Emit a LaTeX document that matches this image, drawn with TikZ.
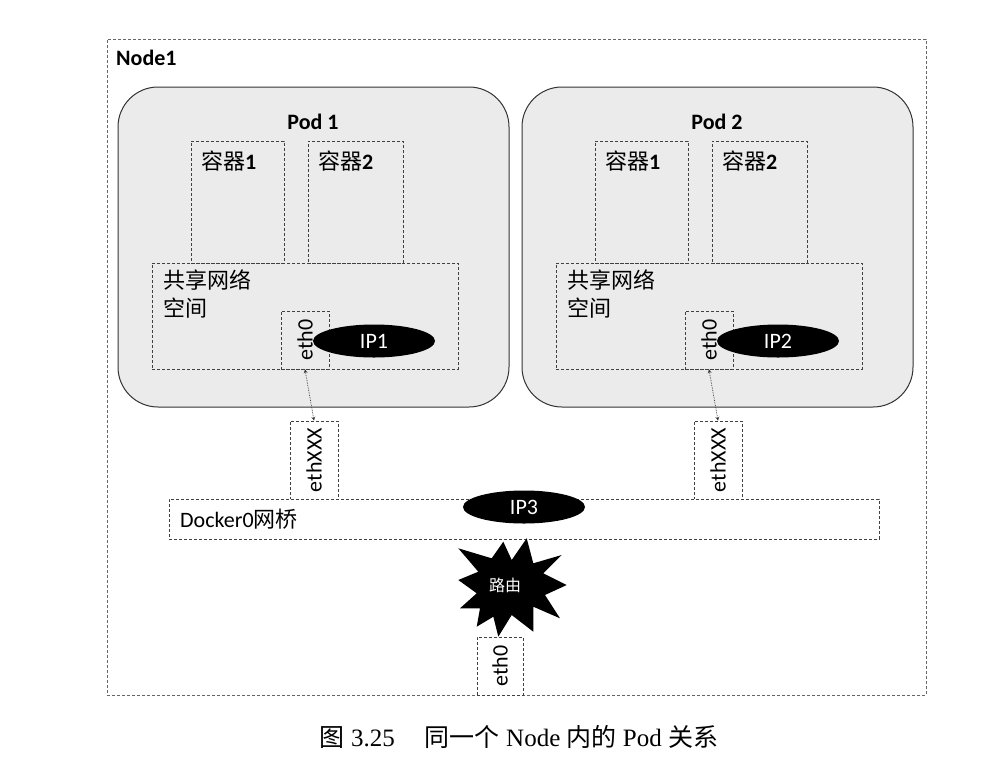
\documentclass[tikz,border=0pt]{standalone}
\usepackage{fontspec}
\usepackage{graphicx}
\setmainfont{Carlito}
\newfontfamily\cjk{Noto Sans CJK SC}
\newfontfamily\capserif{Liberation Serif}
\usetikzlibrary{shapes.geometric}

\tikzset{
  frame/.style={draw=black!60, densely dashed, line width=0.8pt},
  pod/.style={draw=black!80, line width=1pt, fill=black!8, rounded corners=40pt},
  box/.style={draw=black!75, densely dashed, line width=0.7pt, inner sep=0pt},
  wbox/.style={box, fill=white},
  ip/.style={ellipse, fill=black, text=white, minimum width=122pt, minimum height=33pt, inner sep=0pt, font=\fontsize{22}{27}\selectfont},
  txt/.style={font=\fontsize{22}{28}\selectfont, inner sep=0pt},
  btxt/.style={font=\bfseries\fontsize{22}{28}\selectfont, inner sep=0pt},
  link/.style={<->, >=stealth, densely dotted, line width=0.7pt, draw=black!80},
}

\begin{document}
\begin{tikzpicture}[x=1pt, y=-1pt]
      \useasboundingbox (0,0) rectangle (998,766);

      \node[frame, minimum width=819pt, minimum height=656pt] (node1) at (516.5,367) {};
      \node[btxt, anchor=west] (node1label) at (116,58) {Node1};

      \node[pod, minimum width=391pt, minimum height=320pt] (pod1) at (313.5,247) {};
      \node[pod, minimum width=391pt, minimum height=320pt] (pod2) at (717.5,247) {};
      \node[btxt] (pod1label) at (313,122) {Pod 1};
      \node[btxt] (pod2label) at (717,122) {Pod 2};

      \node[box, minimum width=93pt, minimum height=122pt] (p1c1) at (237.5,202) {};
      \node[box, minimum width=95pt, minimum height=122pt] (p1c2) at (355.5,202) {};
      \node[box, minimum width=93pt, minimum height=122pt] (p2c1) at (641.5,202) {};
      \node[box, minimum width=95pt, minimum height=122pt] (p2c2) at (759.5,202) {};
      \node[btxt, anchor=west] (p1c1label) at (201,161) {{\cjk\mdseries 容器}1};
      \node[btxt, anchor=west] (p1c2label) at (318,161) {{\cjk\mdseries 容器}2};
      \node[btxt, anchor=west] (p2c1label) at (605,161) {{\cjk\mdseries 容器}1};
      \node[btxt, anchor=west] (p2c2label) at (722,161) {{\cjk\mdseries 容器}2};

      \node[box, minimum width=306pt, minimum height=106pt] (p1net) at (305,316) {};
      \node[box, minimum width=306pt, minimum height=106pt] (p2net) at (709,316) {};
      \node[txt, anchor=north west, align=left] (p1netlabel) at (163,270) {\cjk 共享网络\\\cjk 空间};
      \node[txt, anchor=north west, align=left] (p2netlabel) at (567,270) {\cjk 共享网络\\\cjk 空间};

      \node[box, txt, minimum width=48pt, minimum height=58pt] (p1eth) at (305,340) {\rotatebox{90}{eth0}};
      \node[box, txt, minimum width=48pt, minimum height=58pt] (p2eth) at (709,340) {\rotatebox{90}{eth0}};
      \node[ip] (ip1) at (374,341) {IP1};
      \node[ip] (ip2) at (778,341) {IP2};

      \node[wbox, txt, minimum width=48pt, minimum height=78pt] (p1ethx) at (314,460) {\rotatebox{90}{ethXXX}};
      \node[wbox, txt, minimum width=48pt, minimum height=78pt] (p2ethx) at (718,460) {\rotatebox{90}{ethXXX}};

      \node[wbox, minimum width=710pt, minimum height=40pt] (docker0) at (524,519) {};
      \node[txt, anchor=west] (docker0label) at (180,519) {Docker0{\cjk 网桥}};
      \node[ip] (ip3) at (524,507) {IP3};

      \fill[black] (526.7,538.3) -- (533.3,563.3) -- (561.7,555) -- (543.3,573.3) -- (566.7,585)
        -- (545,595) -- (560,618.3) -- (533.3,606.7) -- (533.3,631.7) -- (511.7,615)
        -- (498.3,636.7) -- (493.3,616.7) -- (476.7,626.7) -- (480,608.3) -- (460,608.3)
        -- (476.7,593.3) -- (458.3,580) -- (478.3,571.7) -- (458.3,548.3) -- (491.7,558.3)
        -- (503.3,541.7) -- (511.7,560) -- cycle;
      \node[text=white, inner sep=0pt, font=\cjk\fontsize{16}{18}\selectfont] (route) at (505,585) {路由};

      \node[wbox, txt, minimum width=46pt, minimum height=58pt] (hosteth) at (500,666) {\rotatebox{90}{eth0}};

      \draw[link] (p1eth.south) -- (p1ethx.north);
      \draw[link] (p2eth.south) -- (p2ethx.north);

      \node[inner sep=0pt, font=\capserif\fontsize{25}{30}\selectfont] (caption) at (519,737)
        {{\cjk 图} 3.25\hspace{1.2em}{\cjk 同一个} Node {\cjk 内的} Pod {\cjk 关系}};
\end{tikzpicture}
\end{document}
